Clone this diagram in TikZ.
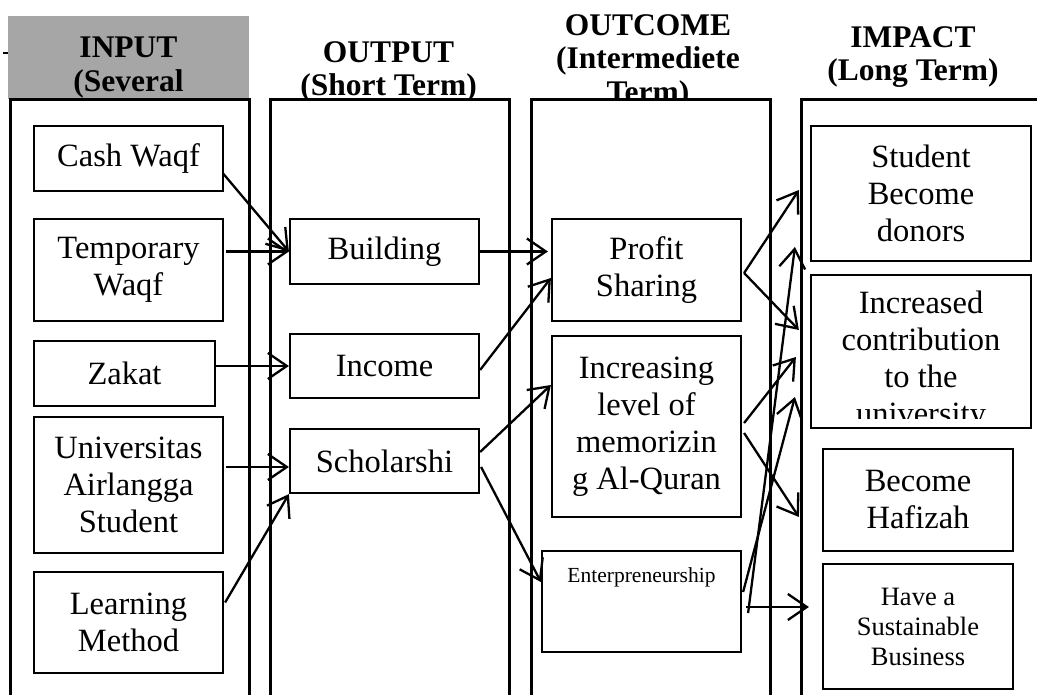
\documentclass[tikz,border=0pt]{standalone}
\usepackage{fontspec}
\setmainfont{Liberation Serif}
\usepackage{tikz}
\usetikzlibrary{arrows.meta, positioning, calc}
\usepackage{xcolor}
\definecolor{headgray}{HTML}{A6A6A6}

\begin{document}
\begin{tikzpicture}[
    x=1pt, y=-1pt,
    column/.style={draw, line width=2.6pt, fill=white, anchor=north west, inner sep=0pt, minimum height=640pt},
    box/.style={draw, line width=2.2pt, fill=white, align=center, inner sep=0pt, font=\fontsize{32.5}{37}\selectfont},
    head/.style={align=center, inner sep=0pt, anchor=north, font=\fontsize{31.5}{33.5}\selectfont\bfseries},
    arrow/.style={-{Straight Barb[length=19pt, width=26pt]}, line width=2.3pt}
  ]
    \useasboundingbox (0,0) rectangle (1037,695);
    % header row
    \node[fill=headgray, anchor=north west, inner sep=0pt, minimum width=241pt, minimum height=82.5pt] (inbg) at (8,16) {};
    \draw[line width=2pt] (3,53) -- (8,53);
    \node[head] (hin) at (128.5,37) {INPUT\\(Several};
    \node[head] (hout) at (388.5,41) {OUTPUT\\(Short Term)};
    \node[head] (hcome) at (648,14) {OUTCOME\\(Intermediete\\Term)};
    \node[head] (himp) at (913,26) {IMPACT\\(Long Term)};
    % columns
    \node[column, minimum width=239pt] (col1) at (9,98.5) {};
    \node[column, minimum width=239pt] (col2) at (269,98.5) {};
    \node[column, minimum width=239pt] (col3) at (530,98.5) {};
    \node[column, minimum width=270pt] (col4) at (800,98.5) {};
    % input
    \node[box, minimum width=189pt, minimum height=65pt] (cash) at (128.5,158.5) {Cash Waqf};
    \node[box, minimum width=189pt, minimum height=102pt] (temp) at (128.5,270) {Temporary\\Waqf};
    \node[box, minimum width=181pt, minimum height=65pt] (zakat) at (124.5,373.5) {Zakat};
    \node[box, minimum width=189pt, minimum height=136pt] (univ) at (128.5,485) {Universitas\\Airlangga\\Student};
    \node[box, minimum width=189pt, minimum height=101pt] (learn) at (128.5,622.5) {Learning\\Method};
    % output
    \node[box, minimum width=189pt, minimum height=65pt] (build) at (384.5,251.5) {Building};
    \node[box, minimum width=189pt, minimum height=64pt] (income) at (384.5,366) {Income};
    \node[box, minimum width=189pt, minimum height=64pt] (schol) at (384.5,461) {Scholarshi};
    % outcome
    \node[box, minimum width=189pt, minimum height=102pt] (profit) at (646.5,270) {Profit\\Sharing};
    \node[box, minimum width=189pt, minimum height=181pt] (memo) at (646.5,426.5) {Increasing\\level of\\memorizin\\g Al-Quran};
    \node[box, minimum width=199pt, text height=31pt, text depth=70pt, font=\fontsize{21.5}{25}\selectfont] (ent) at (641.5,601.5) {Enterpreneurship};
    % impact
    \node[box, minimum width=220pt, minimum height=135pt] (donor) at (921,193.5) {Student\\Become\\donors};
    \node[box, minimum width=220pt, minimum height=153pt] (contrib) at (921,351.5) {};
    \begin{scope}
      \clip (contrib.north west) rectangle ($(contrib.south east)+(0,-11)$);
      \node[box, draw=none, fill=none] (contribtxt) at ($(contrib.center)+(0,10)$) {Increased\\contribution\\to the\\university};
    \end{scope}
    \node[box, minimum width=190pt, minimum height=102pt] (hafizah) at (918,500) {Become\\Hafizah};
    \node[box, minimum width=190pt, minimum height=125pt, font=\fontsize{26.5}{30}\selectfont] (business) at (918,626.5) {Have a\\Sustainable\\Business};
    % input -> output
    \draw[arrow] ($(cash.east)+(-1,15)$) -- (build.west);
    \draw[arrow] ($(temp.east |- build.west)+(2,0)$) -- (build.west);
    \draw[arrow] (zakat.east |- income.west) -- (income.west);
    \draw[arrow] ($(univ.east |- schol.west)+(2,6)$) -- ($(schol.west)+(0,6)$);
    \draw[arrow] ($(learn.east)+(1,-20)$) -- (schol.south west);
    % output -> outcome
    \draw[arrow] (build.east) -- ($(build.east -| profit.west)+(-3,0)$);
    \draw[arrow] ($(income.east)+(0,4)$) -- ($(profit.west)+(0,8)$);
    \draw[arrow] ($(schol.east)+(0,-9)$) -- ($(memo.west)+(0,-41.5)$);
    \draw[arrow] ($(schol.east)+(1,6)$) -- ($(ent.west)+(0,-19.5)$);
    % outcome -> impact
    \draw[arrow] ($(profit.east)+(2,3)$) -- ($(donor.west)+(-11,-3.5)$);
    \draw[arrow] ($(profit.east)+(2,3)$) -- ($(contrib.west)+(-11,-21.5)$);
    \draw[arrow] ($(memo.east)+(2,-3.5)$) -- ($(contrib.west)+(-14,5.5)$);
    \draw[arrow] ($(memo.east)+(2,6.5)$) -- ($(hafizah.west)+(-23,17)$);
    \draw[arrow] ($(ent.east)+(6,11.5)$) -- ($(donor.west)+(-15,53.5)$);
    \draw[arrow] ($(ent.east)+(1,-9.5)$) -- ($(contrib.west)+(-15,45.5)$);
    \draw[arrow] ($(ent.east)+(4,5.5)$) -- ($(business.west)+(-13,-19.5)$);
  \end{tikzpicture}
\end{document}
